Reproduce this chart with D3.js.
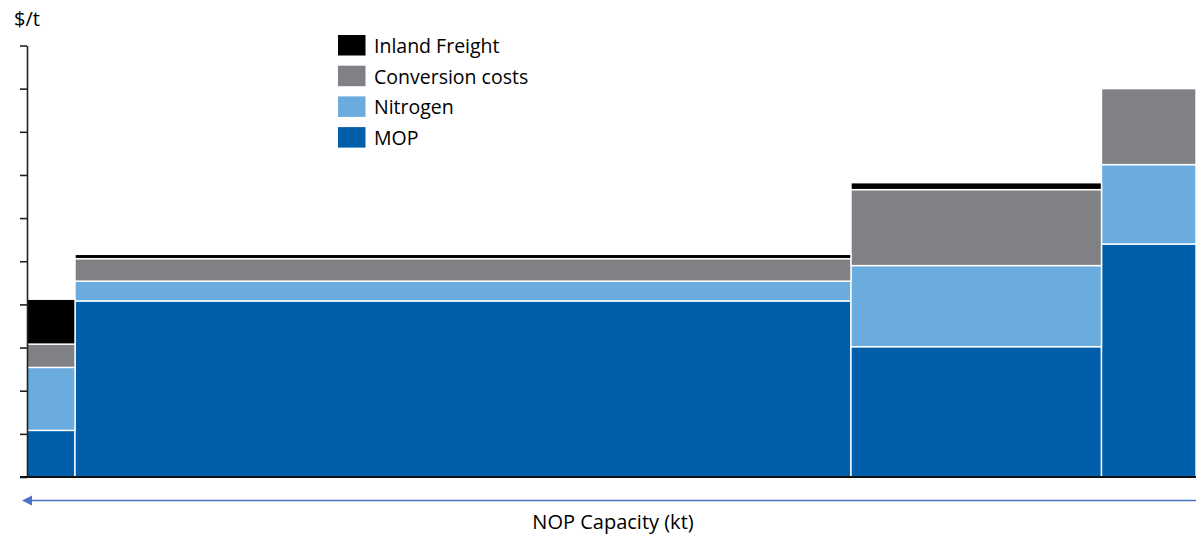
<!DOCTYPE html>
<html>
<head>
<meta charset="utf-8">
<script src="https://cdn.jsdelivr.net/npm/d3@7"></script>
<style>
  html, body { margin: 0; padding: 0; background: #fff; }
  svg { display: block; }
  text { font-family: "Open Sans", "Noto Sans", sans-serif; fill: #000; }
</style>
</head>
<body>
<svg id="chart" width="1196" height="534"></svg>
<script>
// Plants (categories), capacity (bar width) and cost components ($/t)
const plants = ["Plant A", "Plant B", "Plant C", "Plant D"];
const capacity = [480, 7760, 2505, 945]; // kt
const mop = [54, 204, 151, 270];
const nitrogen = [73, 23, 94, 92];
const conversion = [27, 26, 88, 88];
const inlandFreight = [52, 5, 8, 0];

const seriesNames = ["MOP", "Nitrogen", "Conversion costs", "Inland Freight"];
const seriesColors = ["#005eab", "#6aacde", "#808184", "#000000"];
const legendOrder = ["Inland Freight", "Conversion costs", "Nitrogen", "MOP"];
const yTicks = [0, 50, 100, 150, 200, 250, 300, 350, 400, 450, 500];

const svg = d3.select("#chart");
const x0 = 27, x1 = 1196, yBase = 477, yTop = 45.5;

const table = plants.map((p, i) => ({
  plant: p, capacity: capacity[i],
  "MOP": mop[i], "Nitrogen": nitrogen[i],
  "Conversion costs": conversion[i], "Inland Freight": inlandFreight[i]
}));
let cum = 0;
table.forEach(d => { d.start = cum; cum += d.capacity; d.end = cum; });

const x = d3.scaleLinear().domain([0, cum]).range([x0, x1]);
const y = d3.scaleLinear().domain([0, 500]).range([yBase, yTop]);
const color = d3.scaleOrdinal().domain(seriesNames).range(seriesColors);

const stack = d3.stack().keys(seriesNames);
const layers = stack(table);

svg.append("g").selectAll("g")
  .data(layers).join("g")
  .attr("fill", d => color(d.key))
  .selectAll("rect")
  .data(d => d.filter(s => s[1] - s[0] > 0))
  .join("rect")
  .attr("x", d => x(d.data.start))
  .attr("width", d => x(d.data.end) - x(d.data.start))
  .attr("y", d => y(d[1]))
  .attr("height", d => y(d[0]) - y(d[1]))
  .attr("stroke", "#fff")
  .attr("stroke-width", 1.4);

// Y axis (no labels)
const yAxis = d3.axisLeft(y).tickValues(yTicks).tickSize(7).tickFormat("").tickSizeOuter(0);
const gy = svg.append("g").attr("transform", `translate(${x0},0)`).call(yAxis);
gy.select(".domain").attr("stroke", "#222").attr("stroke-width", 1.6);
gy.selectAll(".tick line").attr("stroke", "#222").attr("stroke-width", 1.6);

// X baseline
const xAxis = d3.axisBottom(x).tickValues([]).tickSizeOuter(0);
const gx = svg.append("g").attr("transform", `translate(0,${yBase})`).call(xAxis);
gx.select(".domain").attr("stroke", "#111").attr("stroke-width", 1.8)
  .attr("d", `M${x0 - 7},0H${x1}`);

// y-axis unit label
svg.append("text").attr("x", 14).attr("y", 26).attr("font-size", 20).text("$/t");

// Capacity arrow
svg.append("line")
  .attr("x1", 1196).attr("x2", 30).attr("y1", 500.5).attr("y2", 500.5)
  .attr("stroke", "#4a74c9").attr("stroke-width", 1.4);
svg.append("path").attr("d", "M22,500.5L32,495.5L32,505.5Z").attr("fill", "#4a74c9");

svg.append("text").attr("x", 613).attr("y", 528.5).attr("text-anchor", "middle")
  .attr("font-size", 20).text("NOP Capacity (kt)");

// Legend
const legend = svg.append("g").selectAll("g")
  .data(legendOrder).join("g")
  .attr("transform", (d, i) => `translate(338,${35 + i * 30.7})`);
legend.append("rect").attr("width", 27.5).attr("height", 20.5).attr("fill", d => color(d));
legend.append("text").attr("x", 36).attr("y", 18).attr("font-size", 19.5).text(d => d);
</script>
</body>
</html>
